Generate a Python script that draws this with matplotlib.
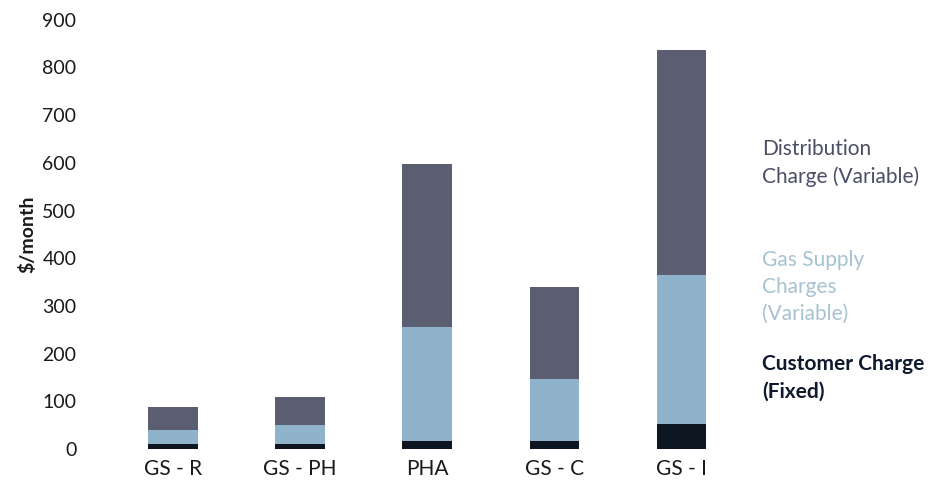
import numpy as np
import matplotlib.pyplot as plt

plt.rcParams['font.family'] = ['Lato', 'DejaVu Sans']

rate_classes = ['GS - R', 'GS - PH', 'PHA', 'GS - C', 'GS - I']
customer_charge = [10, 10, 17, 17, 52]
gas_supply = [30, 40, 239, 130, 313]
distribution = [49, 58, 341, 193, 471]

dist_color = '#5b5d70'
gas_color = '#8fb3ca'
fixed_color = '#0c1520'

fig = plt.figure(figsize=(9.37, 4.95), dpi=100)
ax = fig.add_axes([0.117, 0.093, 0.678, 0.867])

x = np.arange(len(rate_classes))
w = 0.39
fixed = np.array(customer_charge)
gas = np.array(gas_supply)
dist = np.array(distribution)

ax.bar(x, fixed, w, color=fixed_color)
ax.bar(x, gas, w, bottom=fixed, color=gas_color)
ax.bar(x, dist, w, bottom=fixed + gas, color=dist_color)

ax.set_xlim(-0.5, 4.5)
ax.set_ylim(0, 900)
ax.set_yticks(range(0, 901, 100))
ax.set_xticks(x)
ax.set_xticklabels(rate_classes)
ax.tick_params(axis='both', length=0, labelsize=14, colors='#1a1a1a')
ax.tick_params(axis='x', labelsize=15, pad=7)
ax.tick_params(axis='y', pad=24)
for s in ax.spines.values():
    s.set_visible(False)
ax.set_ylabel('$/month', fontsize=14, fontweight='bold', color='#1a1a1a', labelpad=4)

# category notes at the right
fig.text(0.813, 0.671, 'Distribution\nCharge (Variable)', fontsize=15, color='#4b4e66',
         va='center', ha='left', linespacing=1.45)
fig.text(0.813, 0.42, 'Gas Supply\nCharges\n(Variable)', fontsize=15, color='#a6c2d3',
         va='center', ha='left', linespacing=1.45)
fig.text(0.813, 0.237, 'Customer Charge\n(Fixed)', fontsize=15, color='#0f1a2e',
         fontweight='bold', va='center', ha='left', linespacing=1.45)

fig.savefig('out.png', dpi=100, facecolor='white')
